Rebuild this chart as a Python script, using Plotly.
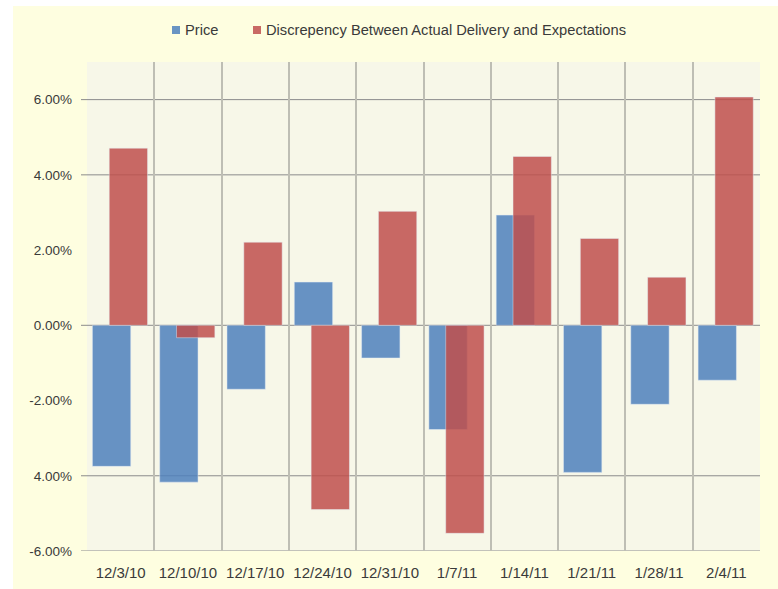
import plotly.graph_objects as go

categories = ["12/3/10", "12/10/10", "12/17/10", "12/24/10", "12/31/10",
              "1/7/11", "1/14/11", "1/21/11", "1/28/11", "2/4/11"]
price = [-3.75, -4.17, -1.70, 1.15, -0.87, -2.77, 2.93, -3.91, -2.10, -1.46]
discrepancy = [4.71, -0.33, 2.21, -4.90, 3.03, -5.53, 4.49, 2.31, 1.28, 6.07]
series_names = ["Price", "Discrepency Between Actual Delivery and Expectations"]
series_colors = ["#4F81BD", "#C0504D"]
ytick_vals = [-6, -4, -2, 0, 2, 4, 6]
ytick_text = ["-6.00%", "4.00%", "-2.00%", "0.00%", "2.00%", "4.00%", "6.00%"]
grid_vals = [-6, -4, 0, 4, 6]

W, H = 778, 589
L, R, T, B = 87, 18, 62, 38
pw, ph = W - L - R, H - T - B


def px_x(p):
    return (p - L) / pw


def px_y(p):
    return (H - B - p) / ph


FONT = "Liberation Sans"
TXT = "#3a3a3a"

fig = go.Figure()
fig.add_trace(go.Bar(
    x=categories, y=price, name=series_names[0],
    marker=dict(color=series_colors[0]), opacity=0.85,
    width=0.57, offset=-0.42,
))
fig.add_trace(go.Bar(
    x=categories, y=discrepancy, name=series_names[1],
    marker=dict(color=series_colors[1]), opacity=0.85,
    width=0.57, offset=-0.17,
))

shapes = [
    dict(type="rect", xref="paper", yref="paper", layer="below",
         x0=px_x(13), x1=px_x(W + 2), y0=px_y(H + 2), y1=px_y(6),
         fillcolor="#FEFEE0", line=dict(width=0)),
    dict(type="rect", xref="paper", yref="paper", layer="below",
         x0=0, x1=1, y0=0, y1=1,
         fillcolor="#F7F7E8", line=dict(width=0)),
]
for g in grid_vals:
    shapes.append(dict(type="line", xref="paper", yref="y", layer="below",
                       x0=px_x(81), x1=1, y0=g, y1=g,
                       line=dict(color="#8C8C8C", width=1)))

# custom legend (small squares close to text, as in the reference)
annotations = []
legend_items = [(172, 183), (253, 264)]
for (sx, tx), name, col in zip(legend_items, series_names, series_colors):
    shapes.append(dict(type="rect", xref="paper", yref="paper",
                       x0=px_x(sx), x1=px_x(sx + 8), y0=px_y(34), y1=px_y(26),
                       fillcolor=col, opacity=0.85, line=dict(width=0)))
    annotations.append(dict(xref="paper", yref="paper", x=px_x(tx), y=px_y(30),
                            xanchor="left", yanchor="middle", showarrow=False,
                            text=name, font=dict(family=FONT, size=14.7, color=TXT)))

fig.update_layout(
    width=W, height=H,
    margin=dict(l=L, r=R, t=T, b=B, autoexpand=False),
    paper_bgcolor="white",
    plot_bgcolor="rgba(0,0,0,0)",
    barmode="overlay",
    font=dict(family=FONT, size=14, color=TXT),
    showlegend=False,
    shapes=shapes,
    annotations=annotations,
    xaxis=dict(type="category", range=[-0.5, 9.5], tickson="boundaries",
               showgrid=True, gridcolor="#BEBEB4", gridwidth=2,
               ticks="", showline=False, zeroline=False,
               ticklabelstandoff=11,
               tickfont=dict(family=FONT, size=15, color=TXT)),
    yaxis=dict(range=[-6, 7], tickvals=ytick_vals, ticktext=ytick_text,
               showgrid=False, zeroline=False, showline=False, ticks="",
               ticklabelstandoff=14,
               tickfont=dict(family=FONT, size=13.5, color=TXT)),
)

fig.write_html("out.html", config={"displayModeBar": False},
               post_script="document.body.style.margin='0';document.body.style.padding='0';")
